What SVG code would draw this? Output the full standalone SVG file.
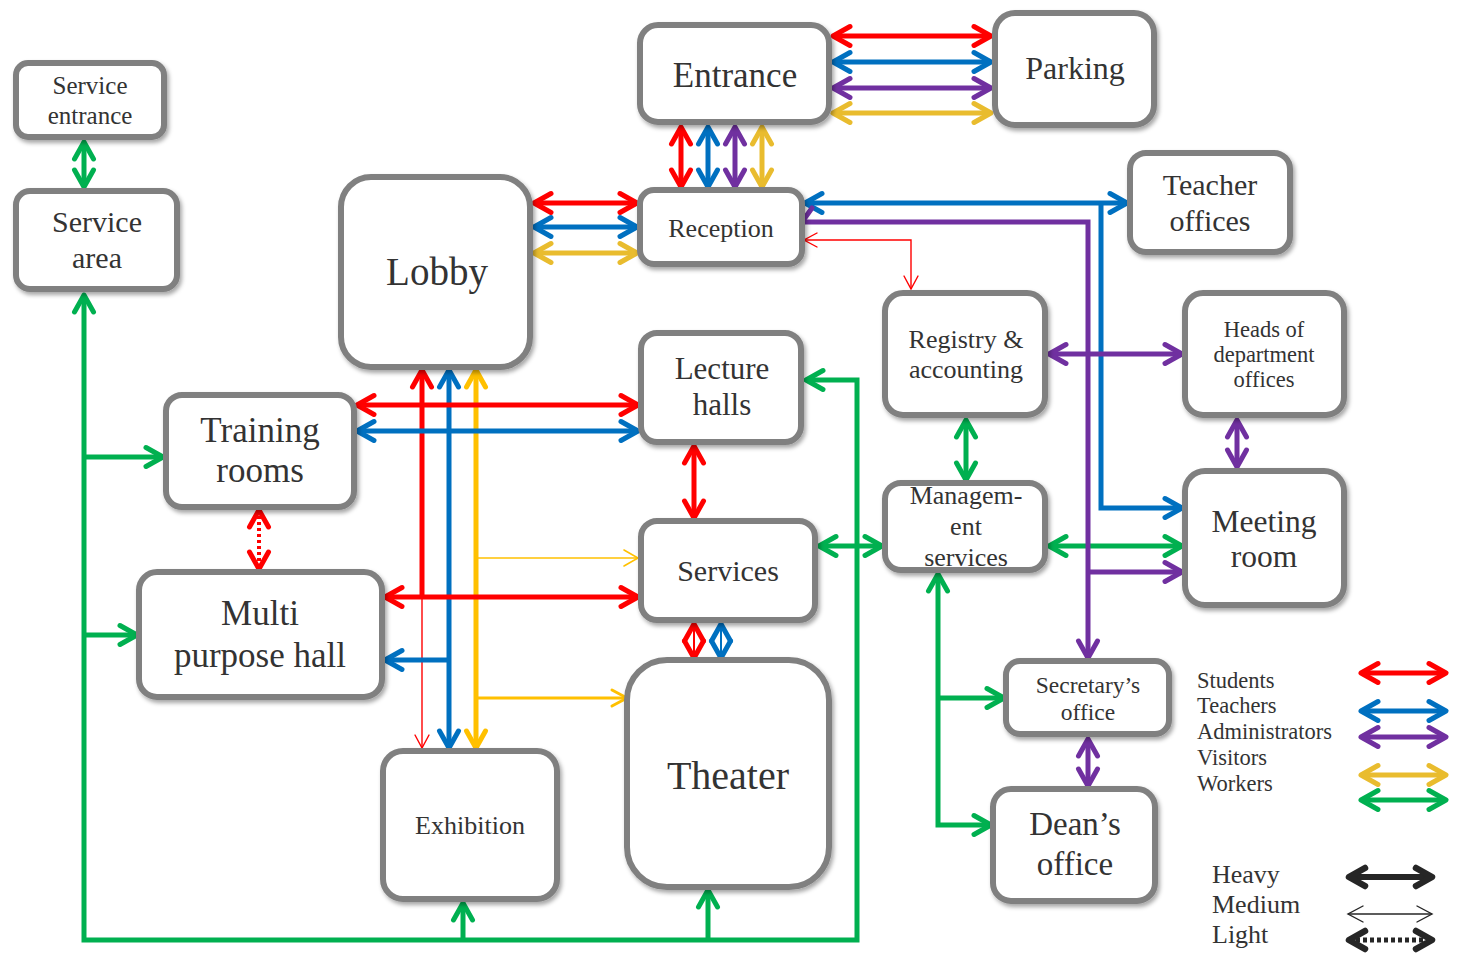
<svg xmlns="http://www.w3.org/2000/svg" width="1460" height="955" viewBox="0 0 1460 955">
<defs>
<style>
.box{fill:#fff;stroke:#808080;stroke-width:6;filter:url(#sh)}
.t{font-family:"Liberation Serif","Times New Roman",serif;fill:#333;text-anchor:middle}
.lg{font-family:"Liberation Serif","Times New Roman",serif;fill:#333}
.c{fill:none;stroke-linejoin:miter}
.h{stroke-width:5}
.m{stroke-width:3}
.th{stroke-width:1.4}
.r{stroke:#FF0000}.b{stroke:#0070C0}.p{stroke:#7030A0}.y{stroke:#FFC000}.y2{stroke:#E9BC2E}.g{stroke:#00B050}.k{stroke:#262626}
.hr{marker-start:url(#aR);marker-end:url(#aR)}
.hb{marker-start:url(#aB);marker-end:url(#aB)}
.hp{marker-start:url(#aP);marker-end:url(#aP)}
.hy{marker-start:url(#aY);marker-end:url(#aY)}
.hy2{marker-start:url(#aY2);marker-end:url(#aY2)}
.hg{marker-start:url(#aG);marker-end:url(#aG)}
</style>
<filter id="sh" x="-10%" y="-10%" width="125%" height="125%">
<feDropShadow dx="2" dy="3" stdDeviation="2.2" flood-color="#000" flood-opacity="0.35"/>
</filter>
<marker id="aR" markerUnits="userSpaceOnUse" orient="auto-start-reverse" markerWidth="30" markerHeight="30" viewBox="-25 -15 30 30" refX="0" refY="0" overflow="visible"><path d="M-17,-9.5 L0,0 L-17,9.5" fill="none" stroke="#FF0000" stroke-width="5" stroke-linecap="round" stroke-linejoin="round"/></marker>
<marker id="aB" markerUnits="userSpaceOnUse" orient="auto-start-reverse" markerWidth="30" markerHeight="30" viewBox="-25 -15 30 30" refX="0" refY="0" overflow="visible"><path d="M-17,-9.5 L0,0 L-17,9.5" fill="none" stroke="#0070C0" stroke-width="5" stroke-linecap="round" stroke-linejoin="round"/></marker>
<marker id="aP" markerUnits="userSpaceOnUse" orient="auto-start-reverse" markerWidth="30" markerHeight="30" viewBox="-25 -15 30 30" refX="0" refY="0" overflow="visible"><path d="M-17,-9.5 L0,0 L-17,9.5" fill="none" stroke="#7030A0" stroke-width="5" stroke-linecap="round" stroke-linejoin="round"/></marker>
<marker id="aY" markerUnits="userSpaceOnUse" orient="auto-start-reverse" markerWidth="30" markerHeight="30" viewBox="-25 -15 30 30" refX="0" refY="0" overflow="visible"><path d="M-17,-9.5 L0,0 L-17,9.5" fill="none" stroke="#FFC000" stroke-width="5" stroke-linecap="round" stroke-linejoin="round"/></marker>
<marker id="aY2" markerUnits="userSpaceOnUse" orient="auto-start-reverse" markerWidth="30" markerHeight="30" viewBox="-25 -15 30 30" refX="0" refY="0" overflow="visible"><path d="M-17,-9.5 L0,0 L-17,9.5" fill="none" stroke="#E9BC2E" stroke-width="5" stroke-linecap="round" stroke-linejoin="round"/></marker>
<marker id="aG" markerUnits="userSpaceOnUse" orient="auto-start-reverse" markerWidth="30" markerHeight="30" viewBox="-25 -15 30 30" refX="0" refY="0" overflow="visible"><path d="M-17,-9.5 L0,0 L-17,9.5" fill="none" stroke="#00B050" stroke-width="5" stroke-linecap="round" stroke-linejoin="round"/></marker>
<marker id="aK" markerUnits="userSpaceOnUse" orient="auto-start-reverse" markerWidth="30" markerHeight="30" viewBox="-25 -15 30 30" refX="0" refY="0" overflow="visible"><path d="M-16,-9 L0,0 L-16,9" fill="none" stroke="#262626" stroke-width="6.5" stroke-linecap="round" stroke-linejoin="round"/></marker>
<marker id="tR" markerUnits="userSpaceOnUse" orient="auto-start-reverse" markerWidth="30" markerHeight="30" viewBox="-25 -15 30 30" refX="0" refY="0" overflow="visible"><path d="M-13,-7 L0,0 L-13,7" fill="none" stroke="#FF0000" stroke-width="1.4" stroke-linecap="round"/></marker>
<marker id="tY" markerUnits="userSpaceOnUse" orient="auto-start-reverse" markerWidth="30" markerHeight="30" viewBox="-25 -15 30 30" refX="0" refY="0" overflow="visible"><path d="M-14,-8 L0,0 L-14,8" fill="none" stroke="#FFC000" stroke-width="1.6" stroke-linecap="round"/></marker>
<marker id="mY" markerUnits="userSpaceOnUse" orient="auto-start-reverse" markerWidth="30" markerHeight="30" viewBox="-25 -15 30 30" refX="0" refY="0" overflow="visible"><path d="M-15,-8 L0,0 L-15,8" fill="none" stroke="#FFC000" stroke-width="3" stroke-linecap="round" stroke-linejoin="round"/></marker>
<marker id="tK" markerUnits="userSpaceOnUse" orient="auto-start-reverse" markerWidth="30" markerHeight="30" viewBox="-25 -15 30 30" refX="0" refY="0" overflow="visible"><path d="M-15,-8 L0,0 L-15,8" fill="none" stroke="#262626" stroke-width="1.4" stroke-linecap="round"/></marker>
</defs>
<rect width="1460" height="955" fill="#fff"/>

<g id="connectors">
<!-- Entrance - Parking -->
<line class="c h r hr" x1="833" y1="36" x2="991" y2="36"/>
<line class="c h b hb" x1="833" y1="62" x2="991" y2="62"/>
<line class="c h p hp" x1="833" y1="88" x2="991" y2="88"/>
<line class="c h y2 hy2" x1="833" y1="113" x2="991" y2="113"/>
<!-- Entrance - Reception -->
<line class="c h r hr" x1="681" y1="127" x2="681" y2="187"/>
<line class="c h b hb" x1="708" y1="127" x2="708" y2="187"/>
<line class="c h p hp" x1="735" y1="127" x2="735" y2="187"/>
<line class="c h y2 hy2" x1="762" y1="127" x2="762" y2="187"/>
<!-- Lobby - Reception -->
<line class="c h r hr" x1="534" y1="203" x2="637" y2="203"/>
<line class="c h b hb" x1="534" y1="227" x2="637" y2="227"/>
<line class="c h y2 hy2" x1="534" y1="253" x2="637" y2="253"/>
<!-- Service entrance - Service area -->
<line class="c h g hg" x1="84" y1="142" x2="84" y2="187"/>
<!-- Green bus -->
<path class="c h g" d="M84,295 L84,940 L857,940 L857,380 L806,380" marker-start="url(#aG)" marker-end="url(#aG)"/>
<path class="c h g" d="M84,457 L163,457" marker-end="url(#aG)"/>
<path class="c h g" d="M84,635 L137,635" marker-end="url(#aG)"/>
<path class="c h g" d="M463,940 L463,903" marker-end="url(#aG)"/>
<path class="c h g" d="M708,940 L708,890" marker-end="url(#aG)"/>
<!-- Services - Management -->
<line class="c h g hg" x1="819" y1="546" x2="882" y2="546"/>
<!-- Management - Meeting -->
<line class="c h g hg" x1="1049" y1="546" x2="1182" y2="546"/>
<!-- Registry - Management -->
<line class="c h g hg" x1="966" y1="420" x2="966" y2="480"/>
<!-- Management down to Secretary / Dean -->
<path class="c h g" d="M991,825 L938,825 L938,574" marker-start="url(#aG)" marker-end="url(#aG)"/>
<path class="c h g" d="M938,698 L1004,698" marker-end="url(#aG)"/>
<!-- Blue Reception - Teacher offices - Meeting room -->
<line class="c h b hb" x1="805" y1="203" x2="1127" y2="203"/>
<path class="c h b" d="M1101,203 L1101,508 L1182,508" marker-end="url(#aB)"/>
<!-- Purple Reception - Secretary -->
<path class="c h p" d="M802,222 L1088,222 L1088,658" marker-end="url(#aP)"/>
<path d="M793,208 L802,222 L812,208" fill="none" stroke="#7030A0" stroke-width="5" stroke-linecap="round" stroke-linejoin="round"/>
<path class="c h p" d="M1088,572 L1182,572" marker-end="url(#aP)"/>
<line class="c h p hp" x1="1049" y1="354" x2="1182" y2="354"/>
<line class="c h p hp" x1="1237" y1="420" x2="1237" y2="467"/>
<line class="c h p hp" x1="1088" y1="739" x2="1088" y2="786"/>
<!-- Red thin Reception - Registry -->
<path class="c th r" d="M804,240 L911,240 L911,289" marker-start="url(#tR)" marker-end="url(#tR)"/>
<!-- Lobby verticals -->
<path class="c h r" d="M422,370 L422,597" marker-start="url(#aR)"/>
<path class="c th r" d="M422,597 L422,748" marker-end="url(#tR)"/>
<line class="c h b hb" x1="449" y1="370" x2="449" y2="748"/>
<line class="c h y hy" x1="476" y1="370" x2="476" y2="748"/>
<!-- Training - Lecture -->
<line class="c h r hr" x1="357" y1="405" x2="638" y2="405"/>
<line class="c h b hb" x1="357" y1="431" x2="638" y2="431"/>
<!-- Yellow thin to Services -->
<path class="c y" stroke-width="1.6" d="M476,558 L638,558" marker-end="url(#tY)"/>
<!-- Multi - Services -->
<line class="c h r hr" x1="385" y1="597" x2="638" y2="597"/>
<!-- Blue to Multi -->
<path class="c h b" d="M449,660 L385,660" marker-end="url(#aB)"/>
<!-- Yellow medium to Theater -->
<path class="c m y" d="M476,698 L627,698" marker-end="url(#mY)"/>
<!-- Lecture - Services -->
<line class="c h r hr" x1="694" y1="446" x2="694" y2="518"/>
<!-- Services - Theater diamonds -->
<line class="c r hr" stroke-width="2" x1="694" y1="624" x2="694" y2="658"/>
<line class="c b hb" stroke-width="2" x1="721" y1="624" x2="721" y2="658"/>
<!-- Training - Multi dotted -->
<line class="c r hr" stroke-width="4" stroke-dasharray="3 3" x1="259" y1="510" x2="259" y2="569"/>
</g>

<g id="n-service-entrance"><rect class="box" x="16" y="63" width="148" height="74" rx="12"/><text class="t" font-size="25" x="90" y="94">Service</text><text class="t" font-size="25" x="90" y="124">entrance</text></g>
<g id="n-service-area"><rect class="box" x="16" y="191" width="161" height="98" rx="14"/><text class="t" font-size="30" x="97" y="232">Service</text><text class="t" font-size="30" x="97" y="268">area</text></g>
<g id="n-lobby"><rect class="box" x="341" y="177" width="189" height="190" rx="30"/><text class="t" font-size="39" x="437" y="285">Lobby</text></g>
<g id="n-entrance"><rect class="box" x="640" y="25" width="189" height="97" rx="18"/><text class="t" font-size="35" x="735" y="87">Entrance</text></g>
<g id="n-parking"><rect class="box" x="995" y="13" width="159" height="112" rx="20"/><text class="t" font-size="32" x="1075" y="79">Parking</text></g>
<g id="n-reception"><rect class="box" x="640" y="190" width="162" height="74" rx="14"/><text class="t" font-size="26" x="721" y="237">Reception</text></g>
<g id="n-teacher-offices"><rect class="box" x="1130" y="153" width="160" height="99" rx="16"/><text class="t" font-size="30" x="1210" y="195">Teacher</text><text class="t" font-size="30" x="1210" y="231">offices</text></g>
<g id="n-registry"><rect class="box" x="885" y="293" width="160" height="122" rx="18"/><text class="t" font-size="26" x="966" y="348">Registry &amp;</text><text class="t" font-size="26" x="966" y="378">accounting</text></g>
<g id="n-heads"><rect class="box" x="1185" y="293" width="159" height="122" rx="18"/><text class="t" font-size="22.5" x="1264" y="337">Heads of</text><text class="t" font-size="22.5" x="1264" y="362">department</text><text class="t" font-size="22.5" x="1264" y="387">offices</text></g>
<g id="n-lecture-halls"><rect class="box" x="641" y="333" width="160" height="109" rx="16"/><text class="t" font-size="31" x="722" y="379">Lecture</text><text class="t" font-size="31" x="722" y="415">halls</text></g>
<g id="n-training-rooms"><rect class="box" x="166" y="395" width="188" height="112" rx="16"/><text class="t" font-size="35" x="260" y="442">Training</text><text class="t" font-size="35" x="260" y="482">rooms</text></g>
<g id="n-services"><rect class="box" x="641" y="521" width="174" height="99" rx="16"/><text class="t" font-size="30" x="728" y="581">Services</text></g>
<g id="n-management"><rect class="box" x="885" y="483" width="160" height="87" rx="16"/><text class="t" font-size="26" x="966" y="504">Managem-</text><text class="t" font-size="26" x="966" y="535">ent</text><text class="t" font-size="26" x="966" y="566">services</text></g>
<g id="n-meeting-room"><rect class="box" x="1185" y="471" width="159" height="134" rx="20"/><text class="t" font-size="31.5" x="1264" y="532">Meeting</text><text class="t" font-size="31.5" x="1264" y="567">room</text></g>
<g id="n-multi-purpose-hall"><rect class="box" x="139" y="572" width="243" height="125" rx="18"/><text class="t" font-size="35" x="260" y="625">Multi</text><text class="t" font-size="35" x="260" y="667">purpose hall</text></g>
<g id="n-exhibition"><rect class="box" x="383" y="751" width="174" height="148" rx="20"/><text class="t" font-size="26" x="470" y="834">Exhibition</text></g>
<g id="n-theater"><rect class="box" x="627" y="660" width="202" height="227" rx="40"/><text class="t" font-size="40" x="728" y="789">Theater</text></g>
<g id="n-secretary"><rect class="box" x="1006" y="661" width="163" height="73" rx="14"/><text class="t" font-size="23.5" x="1088" y="693">Secretary’s</text><text class="t" font-size="23.5" x="1088" y="720">office</text></g>
<g id="n-dean"><rect class="box" x="993" y="789" width="162" height="112" rx="18"/><text class="t" font-size="33" x="1075" y="835">Dean’s</text><text class="t" font-size="33" x="1075" y="875">office</text></g>

<g id="legend">
<text class="lg" font-size="22.5" x="1197" y="688">Students</text>
<text class="lg" font-size="22.5" x="1197" y="713">Teachers</text>
<text class="lg" font-size="22.5" x="1197" y="739">Administrators</text>
<text class="lg" font-size="22.5" x="1197" y="765">Visitors</text>
<text class="lg" font-size="22.5" x="1197" y="791">Workers</text>
<line class="c h r hr" x1="1361" y1="673" x2="1446" y2="673"/>
<line class="c h b hb" x1="1361" y1="711" x2="1446" y2="711"/>
<line class="c h p hp" x1="1361" y1="737" x2="1446" y2="737"/>
<line class="c h y2 hy2" x1="1361" y1="775" x2="1446" y2="775"/>
<line class="c h g hg" x1="1361" y1="800" x2="1446" y2="800"/>
<text class="lg" font-size="26" x="1212" y="883">Heavy</text>
<text class="lg" font-size="26" x="1212" y="913">Medium</text>
<text class="lg" font-size="26" x="1212" y="943">Light</text>
<line class="c k" stroke-width="6" x1="1349" y1="877" x2="1432" y2="877" marker-start="url(#aK)" marker-end="url(#aK)"/>
<line class="c k" stroke-width="1.4" x1="1348" y1="914" x2="1432" y2="914" marker-start="url(#tK)" marker-end="url(#tK)"/>
<line class="c k" stroke-width="5" stroke-dasharray="4 3" x1="1349" y1="940" x2="1432" y2="940" marker-start="url(#aK)" marker-end="url(#aK)"/>
</g>
</svg>
